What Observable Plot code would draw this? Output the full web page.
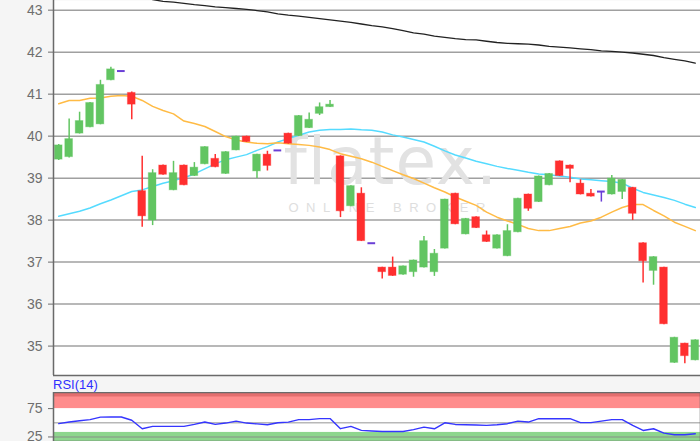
<!DOCTYPE html>
<html><head><meta charset="utf-8">
<script src="https://cdn.jsdelivr.net/npm/d3@7"></script>
<script src="https://cdn.jsdelivr.net/npm/@observablehq/plot@0.6"></script>
<style>
body{margin:0;background:#f5f5f5;font-family:"Liberation Sans",Arial,sans-serif;}
#wrap{width:700px;height:441px;overflow:hidden;position:relative;background:#f5f5f5}
#rsilabel{height:14px;position:relative}
#rsilabel span{position:absolute;left:53px;top:0px;font-size:13px;color:#2f2fff;line-height:14px}
svg{display:block}
</style></head><body>
<div id="wrap"><div id="main"></div><div id="rsilabel"><span>RSI(14)</span></div><div id="rsi"></div></div>
<script>
// Daily candles (index 0..61)
const opens  = [39.44,39.50,40.06,40.21,40.28,41.33,41.55,41.03,38.69,37.99,39.30,38.71,39.30,39.05,39.33,39.46,39.10,39.66,39.99,39.16,39.56,39.66,40.06,40.00,40.19,40.53,40.69,39.52,38.33,38.63,37.45,36.87,36.87,36.70,36.76,36.87,36.76,37.32,38.63,37.66,38.07,37.64,37.32,37.14,37.71,38.61,38.43,38.83,39.40,39.30,38.87,38.63,38.68,38.61,38.67,38.77,37.45,36.79,36.87,34.60,35.06,34.66];
const highs  = [39.80,40.41,40.57,40.80,41.33,41.64,41.55,41.05,39.52,39.20,39.31,39.40,39.31,39.37,39.75,39.56,39.63,40.00,40.00,39.57,39.64,39.66,40.07,40.49,40.55,40.79,40.85,39.53,38.82,38.77,37.45,36.88,37.12,36.91,37.05,37.61,37.30,38.50,38.64,38.04,38.08,37.74,37.65,37.89,38.52,38.62,39.05,39.11,39.41,39.31,38.96,38.73,38.68,39.06,38.97,38.78,37.46,37.13,36.88,35.21,35.07,35.15];
const lows   = [39.42,39.48,40.05,40.20,40.27,41.32,41.55,40.39,37.83,37.87,39.07,38.70,38.82,39.04,39.32,39.25,39.09,39.65,39.85,38.99,39.17,39.66,39.81,39.99,40.18,40.49,40.68,38.06,38.32,37.49,37.45,36.60,36.66,36.69,36.64,36.86,36.66,37.31,37.89,37.65,37.80,37.47,37.31,37.13,37.70,38.21,38.42,38.82,39.04,38.89,38.60,38.55,38.43,38.60,38.49,37.99,36.50,36.45,35.51,34.59,34.58,34.65];
const closes = [39.78,39.93,40.36,40.79,41.22,41.59,41.55,40.75,38.09,39.12,39.08,39.12,38.83,39.25,39.74,39.26,39.62,39.99,39.86,39.56,39.29,39.66,39.82,40.48,40.39,40.69,40.75,38.21,38.81,37.50,37.45,36.76,36.67,36.90,37.04,37.50,37.20,38.49,37.90,38.03,37.81,37.48,37.64,37.74,38.51,38.27,39.04,39.10,39.05,39.22,38.61,38.56,38.68,38.99,38.96,38.15,37.02,37.12,35.52,35.20,34.76,35.14];

// Moving averages
const maShort = [40.77,40.85,40.85,40.90,40.91,40.95,40.97,40.95,40.85,40.71,40.61,40.53,40.36,40.30,40.23,40.11,39.99,39.91,39.86,39.83,39.82,39.84,39.82,39.80,39.78,39.74,39.68,39.58,39.52,39.46,39.38,39.28,39.18,39.08,38.99,38.88,38.77,38.67,38.55,38.45,38.35,38.19,38.07,37.98,37.90,37.80,37.75,37.75,37.80,37.85,37.93,37.98,38.07,38.19,38.30,38.37,38.37,38.23,38.10,37.95,37.85,37.75];
const maMid   = [38.09,38.15,38.21,38.29,38.39,38.48,38.58,38.68,38.72,38.80,38.88,38.94,39.01,39.10,39.22,39.34,39.44,39.50,39.56,39.66,39.75,39.86,39.94,40.02,40.10,40.14,40.16,40.16,40.17,40.15,40.14,40.10,40.03,39.98,39.92,39.86,39.76,39.65,39.55,39.48,39.40,39.34,39.28,39.23,39.19,39.14,39.10,39.08,39.05,39.02,38.98,38.96,38.94,38.92,38.88,38.76,38.66,38.60,38.54,38.47,38.38,38.30];
const maLong  = [null,null,null,null,null,null,null,null,null,43.25,43.21,43.19,43.16,43.13,43.11,43.08,43.06,43.04,43.02,42.99,42.96,42.91,42.88,42.86,42.83,42.80,42.77,42.74,42.71,42.67,42.63,42.60,42.56,42.51,42.46,42.43,42.38,42.35,42.32,42.30,42.29,42.26,42.23,42.21,42.20,42.19,42.17,42.14,42.12,42.10,42.08,42.06,42.03,42.02,42.00,41.98,41.95,41.92,41.87,41.83,41.79,41.74];

// RSI(14)
const rsiValues = [48.6,51.4,53.5,55.6,60.0,60.2,60.2,54.4,39.4,43.6,43.6,43.6,43.6,47.2,51.4,47.2,49.5,53.0,49.5,48.0,46.6,50.0,51.2,55.6,55.6,57.4,57.4,39.6,43.6,36.6,35.5,34.7,34.7,34.7,38.0,42.4,39.4,50.0,47.1,46.5,46.0,45.4,46.5,48.4,53.0,51.3,57.2,57.2,57.2,57.2,50.2,50.2,53.0,55.6,55.6,45.4,36.5,39.5,31.7,28.8,28.8,30.6];

const priceTicks = [35,36,37,38,39,40,41,42,43];
const rsiTicks = [25,75];
const rsiGrid = [25,50];
const rsiBands = [
  {lo: 75, hi: 103.4, fill: "#ff8c8c"},
  {lo: 95.5, hi: 103.4, fill: "#e46e6e"},
  {lo: 0, hi: 33, fill: "#8ed68e"}
];
const watermark = ["flatex."];
const watermarkSub = ["ONLINE BROKER"];

const idx = d3.range(opens.length);
const candles = idx.map(i => ({i, open: opens[i], high: highs[i], low: lows[i], close: closes[i]}));
const kind = d => d.close > d.open ? "up" : d.close < d.open ? "down" : "flat";
const colorOf = {up: "#62c562", down: "#ff2f2f", flat: "#6a3fd6"};
const lineData = arr => idx.map(i => ({i, v: arr[i]}));
const half = 0.37;
const font = "Liberation Sans, Arial, sans-serif";

const main = Plot.plot({
  width: 700, height: 378,
  marginLeft: 53, marginRight: 0, marginTop: 0, marginBottom: 3,
  style: {background: "transparent", fontFamily: font, fontSize: "14px", color: "#6e6e6e", overflow: "hidden"},
  x: {domain: [-0.5, 61.5], axis: null},
  y: {domain: [34.30, 43.23], ticks: priceTicks, tickSize: 5, tickPadding: 6, tickFormat: d => d, label: null},
  marks: [
    Plot.frame({fill: "white", stroke: "none"}),
    Plot.ruleY(priceTicks, {stroke: "#a0a0a0", strokeWidth: 1.5}),
    Plot.text(watermark, {text: d => d, frameAnchor: "top-left", dx: 230, dy: 183, lineAnchor: "bottom", textAnchor: "start", fontSize: 66, fill: "#e2e2e2", fontFamily: "DejaVu Sans, sans-serif", fontWeight: "normal"}),
    Plot.text(watermarkSub, {text: d => d, frameAnchor: "top-left", dx: 235, dy: 207, lineAnchor: "middle", textAnchor: "start", fontSize: 13, fill: "#dedede", fontFamily: font}),
    Plot.line(lineData(maLong), {x: "i", y: "v", stroke: "#222", strokeWidth: 1.3, clip: true}),
    Plot.line(lineData(maMid), {x: "i", y: "v", stroke: "#55dbff", strokeWidth: 1.5}),
    Plot.line(lineData(maShort), {x: "i", y: "v", stroke: "#ffbb45", strokeWidth: 1.5}),
    Plot.ruleX(candles, {x: "i", y1: "low", y2: "high", stroke: d => colorOf[kind(d)], strokeWidth: 1.5}),
    Plot.rect(candles.filter(d => kind(d) !== "flat"), {x1: d => d.i - half, x2: d => d.i + half, y1: "open", y2: "close", fill: d => colorOf[kind(d)], stroke: d => colorOf[kind(d)], strokeOpacity: 0.35, strokeWidth: 1}),
    Plot.ruleY(candles.filter(d => kind(d) === "flat"), {y: "close", x1: d => d.i - half, x2: d => d.i + half, stroke: colorOf.flat, strokeWidth: 2}),
    Plot.ruleX([-0.5], {stroke: "#6a6a6a", strokeWidth: 1.5}),
    Plot.ruleY([34.30], {stroke: "#6a6a6a", strokeWidth: 1.5})
  ]
});
d3.select(main).selectAll("text").filter(function(){return this.textContent === "ONLINE BROKER";}).attr("letter-spacing", 7.5);
d3.select(main).selectAll("text").filter(function(){return this.textContent === "flatex.";}).attr("letter-spacing", 1);
document.getElementById("main").append(main);

const rsiPlot = Plot.plot({
  width: 700, height: 49,
  marginLeft: 53, marginRight: 0, marginTop: 0, marginBottom: 0,
  style: {background: "transparent", fontFamily: font, fontSize: "14px", color: "#6e6e6e", overflow: "hidden"},
  x: {domain: [-0.5, 61.5], axis: null},
  y: {domain: [17, 103.4], ticks: rsiTicks, tickSize: 5, tickPadding: 6, tickFormat: d => d, label: null},
  marks: [
    Plot.frame({fill: "white", stroke: "none"}),
    Plot.rect(rsiBands, {y1: "lo", y2: "hi", fill: "fill"}),
    Plot.ruleY(rsiGrid, {stroke: "#888", strokeOpacity: 0.6, strokeWidth: 1.5}),
    Plot.line(lineData(rsiValues), {x: "i", y: "v", stroke: "#3535ff", strokeWidth: 1.4}),
    Plot.frame({stroke: "#6a6a6a", strokeWidth: 1.5})
  ]
});
document.getElementById("rsi").append(rsiPlot);
</script>
</body></html>
